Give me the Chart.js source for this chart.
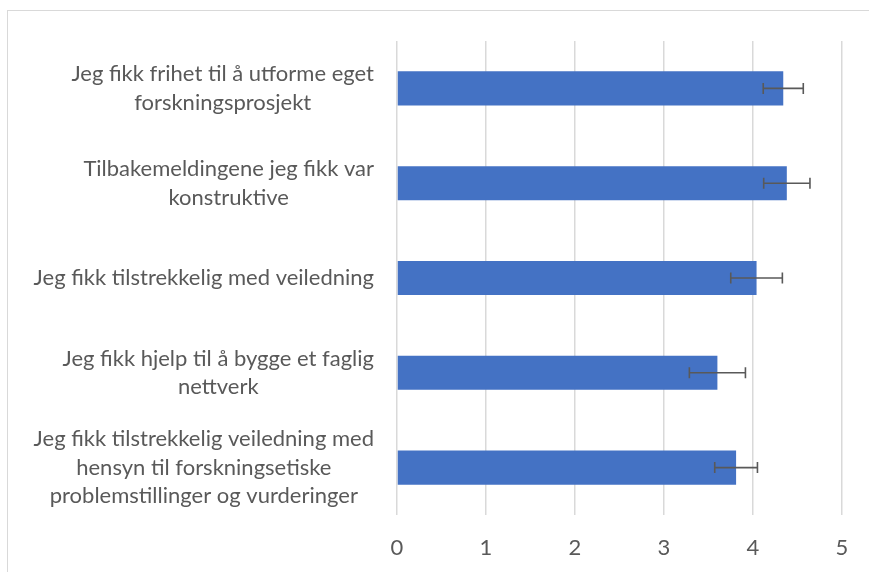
<!DOCTYPE html>
<html>
<head>
<meta charset="utf-8">
<script src="https://cdn.jsdelivr.net/npm/chart.js@4/dist/chart.umd.min.js"></script>
<style>
  html, body { margin: 0; padding: 0; background: #fff; overflow: hidden; }
  #frame { position: absolute; left: 7px; top: 10px; width: 900px; height: 600px; border: 1.5px solid #d9d9d9; box-sizing: border-box; }
  #wrap { position: absolute; left: 0; top: 0; width: 869px; height: 572px; }
</style>
</head>
<body>
<div id="frame"></div>
<div id="wrap"><canvas id="c" width="869" height="572"></canvas></div>
<script>
const categories = [
  ["Jeg fikk frihet til å utforme eget", "forskningsprosjekt"],
  ["Tilbakemeldingene jeg fikk var", "konstruktive"],
  ["Jeg fikk tilstrekkelig med veiledning"],
  ["Jeg fikk hjelp til å bygge et faglig", "nettverk"],
  ["Jeg fikk tilstrekkelig veiledning med", "hensyn til forskningsetiske", "problemstillinger og vurderinger"]
];
const meanValues = [4.34, 4.38, 4.04, 3.60, 3.81];
const errorValues = [0.225, 0.26, 0.29, 0.315, 0.24];
const xTicks = [0, 1, 2, 3, 4, 5];

const FONT = "Lato, 'Open Sans', sans-serif";
const TEXT = '#595959';

const errorBarPlugin = {
  id: 'errorBars',
  afterDatasetsDraw(chart) {
    const ctx = chart.ctx;
    const xs = chart.scales.x, ys = chart.scales.y;
    ctx.save();
    ctx.strokeStyle = '#595959';
    ctx.lineWidth = 1.6;
    meanValues.forEach((v, i) => {
      const y = ys.getPixelForValue(i);
      const x1 = xs.getPixelForValue(v - errorValues[i]);
      const x2 = xs.getPixelForValue(v + errorValues[i]);
      ctx.beginPath();
      ctx.moveTo(x1, y); ctx.lineTo(x2, y);
      ctx.moveTo(x1, y - 5.5); ctx.lineTo(x1, y + 5.5);
      ctx.moveTo(x2, y - 5.5); ctx.lineTo(x2, y + 5.5);
      ctx.stroke();
    });
    ctx.restore();
  }
};

const labelPlugin = {
  id: 'blockLabels',
  afterDraw(chart) {
    const ctx = chart.ctx;
    const ys = chart.scales.y;
    const rightEdge = 374;
    const lineH = 28.5;
    ctx.save();
    ctx.font = '22px ' + FONT;
    ctx.fillStyle = TEXT;
    ctx.textAlign = 'center';
    ctx.textBaseline = 'middle';
    categories.forEach((lines, i) => {
      const widest = Math.max(...lines.map(l => ctx.measureText(l).width));
      const cx = rightEdge - widest / 2;
      const cy = ys.getPixelForValue(i);
      const y0 = cy - (lines.length - 1) * lineH / 2;
      lines.forEach((l, k) => ctx.fillText(l, cx, y0 + k * lineH));
    });
    ctx.restore();
  }
};

new Chart(document.getElementById('c'), {
  type: 'bar',
  data: {
    labels: categories,
    datasets: [{
      data: meanValues,
      backgroundColor: '#4472C4',
      borderWidth: 0,
      barPercentage: 0.36,
      categoryPercentage: 1.0
    }]
  },
  options: {
    indexAxis: 'y',
    responsive: false,
    animation: false,
    events: [],
    layout: { padding: { left: 0, right: 27, top: 41, bottom: 0 } },
    plugins: { legend: { display: false }, tooltip: { enabled: false } },
    scales: {
      x: {
        min: 0, max: 5,
        afterBuildTicks(axis) { axis.ticks = xTicks.map(v => ({ value: v })); },
        grid: { color: '#d9d9d9', lineWidth: 1.5, drawTicks: false },
        border: { display: false },
        ticks: { color: TEXT, font: { family: FONT, size: 22 }, padding: 20 },
        afterFit(axis) { axis.height = 572 - 515; }
      },
      y: {
        grid: { display: false },
        border: { display: false },
        ticks: { display: false },
        afterFit(axis) { axis.width = 397; }
      }
    }
  },
  plugins: [errorBarPlugin, labelPlugin]
});
</script>
</body>
</html>
